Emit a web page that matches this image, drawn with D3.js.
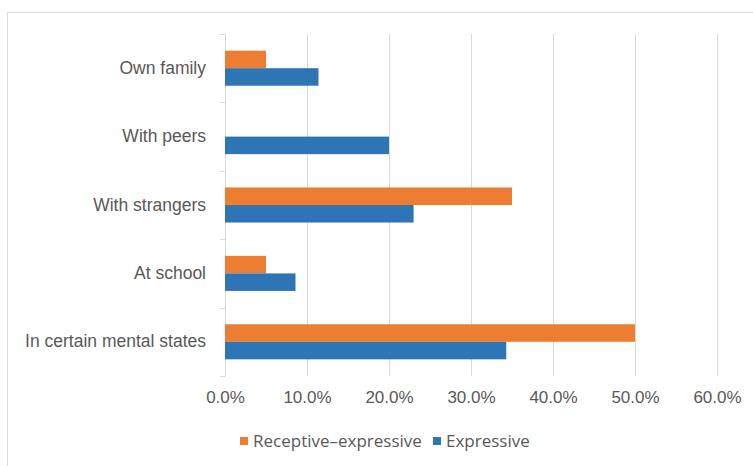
<!DOCTYPE html>
<html>
<head>
<meta charset="utf-8">
<script src="https://cdn.jsdelivr.net/npm/d3@7"></script>
<style>
  body { margin: 0; background: #fff; }
  svg { display: block; font-family: "Open Sans", Lato, sans-serif; }
</style>
</head>
<body>
<svg></svg>
<script>
const categories = ['Own family', 'With peers', 'With strangers', 'At school', 'In certain mental states'],
      seriesNames = ['Receptive\u2013expressive', 'Expressive'],
      receptive = [5, 0, 35, 5, 50],
      expressive = [11.4, 20, 23, 8.6, 34.3],
      tickValues = [0, 10, 20, 30, 40, 50, 60];

const width = 753,
      height = 466,
      plotTop = 34,
      plotBottom = 376,
      plotLeft = 225,
      plotRight = 717,
      colors = ['#ED7D31', '#2E75B6'],
      textColor = '#595959',
      gridColor = '#d9d9d9';

const rows = categories.map((c, i) => ({ cat: c, values: [receptive[i], expressive[i]] }));

const xScale = d3.scaleLinear()
                 .domain([0, 60])
                 .range([plotLeft, plotRight]),
      yScale = d3.scaleBand()
                 .domain(categories)
                 .range([plotTop, plotBottom]),
      innerScale = d3.scaleBand()
                     .domain(seriesNames)
                     .range([0, yScale.bandwidth()])
                     .paddingOuter(0.95);

const svg = d3.select('svg')
    .attr('width', width)
    .attr('height', height);

// chart frame
svg.append('rect')
    .attr('x', 7.5)
    .attr('y', 12.5)
    .attr('width', width)
    .attr('height', height)
    .attr('fill', 'none')
    .attr('stroke', gridColor);

// vertical gridlines
svg.append('g')
  .selectAll('line')
  .data(tickValues)
  .enter()
  .append('line')
    .attr('x1', (d) => Math.round(xScale(d)) + 0.5)
    .attr('x2', (d) => Math.round(xScale(d)) + 0.5)
    .attr('y1', plotTop)
    .attr('y2', plotBottom)
    .attr('stroke', gridColor);

// category boundary ticks
const bounds = categories.map((c) => yScale(c)).concat([plotBottom]);
svg.append('g')
  .selectAll('line')
  .data(bounds)
  .enter()
  .append('line')
    .attr('x1', plotLeft - 5)
    .attr('x2', plotLeft)
    .attr('y1', (d) => Math.round(d) + 0.5)
    .attr('y2', (d) => Math.round(d) + 0.5)
    .attr('stroke', gridColor);

// bars
svg.append('g')
  .selectAll('g')
  .data(rows)
  .enter()
  .append('g')
    .attr('transform', (d) => `translate(0, ${yScale(d.cat)})`)
  .selectAll('rect')
  .data((d) => d.values.map((v, i) => ({ v, s: seriesNames[i], i })))
  .enter()
  .append('rect')
    .attr('x', xScale(0))
    .attr('y', (d) => innerScale(d.s))
    .attr('width', (d) => xScale(d.v) - xScale(0))
    .attr('height', innerScale.bandwidth())
    .attr('fill', (d) => colors[d.i]);

// y axis labels
const yAxis = d3.axisLeft(yScale)
                .tickSize(0)
                .tickPadding(19);
const yG = svg.append('g')
    .attr('transform', `translate(${plotLeft}, 0)`)
    .call(yAxis);
yG.select('.domain').remove();
yG.selectAll('text')
    .attr('fill', textColor)
    .style('font-size', '17.5px');

// x axis labels
const xAxis = d3.axisBottom(xScale)
                .tickValues(tickValues)
                .tickFormat((d) => d.toFixed(1) + '%')
                .tickSize(0)
                .tickPadding(15);
const xG = svg.append('g')
    .attr('transform', `translate(0, ${plotBottom})`)
    .call(xAxis);
xG.select('.domain').remove();
xG.selectAll('text')
    .attr('fill', textColor)
    .style('font-size', '17px');

// legend
const legendX = [240, 433];
const legend = svg.append('g')
  .selectAll('g')
  .data(seriesNames)
  .enter()
  .append('g')
    .attr('transform', (d, i) => `translate(${legendX[i]}, 441)`);
legend.append('rect')
    .attr('x', 0)
    .attr('y', -4)
    .attr('width', 8)
    .attr('height', 8)
    .attr('fill', (d, i) => colors[i]);
legend.append('text')
    .text((d) => d)
    .attr('x', 13)
    .attr('dy', '0.35em')
    .attr('fill', textColor)
    .style('font-size', '17px');
</script>
</body>
</html>
